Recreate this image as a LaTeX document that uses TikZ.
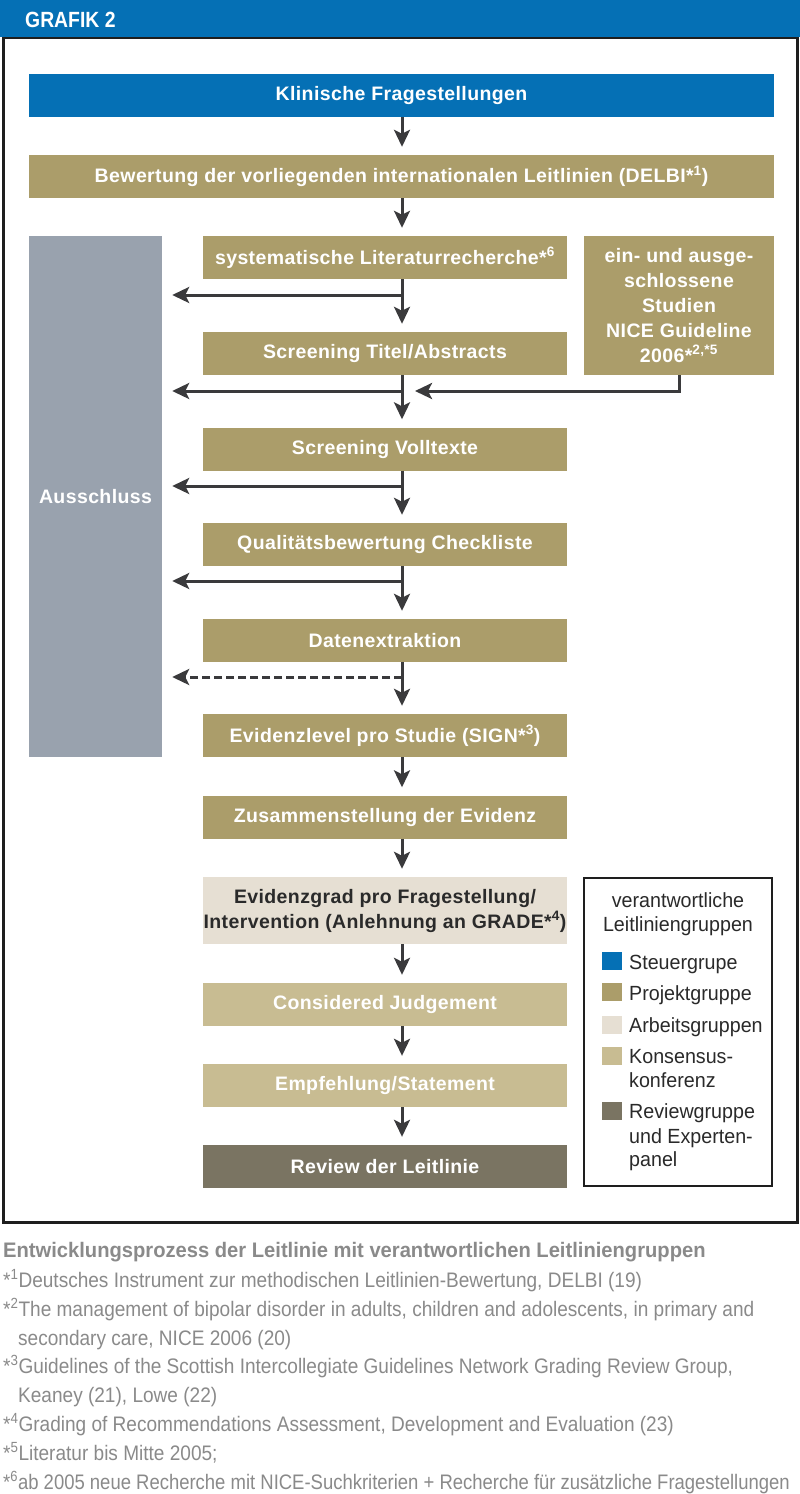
\documentclass[tikz,border=0pt]{standalone}
\usepackage{fontspec}
\setmainfont{Liberation Sans}
\newfontfamily\boxf{Liberation Sans}[LetterSpace=2]
\newfontfamily\hdrf{Liberation Sans}[FakeStretch=0.88]
\newfontfamily\notef{Liberation Sans}[FakeStretch=0.907]
\newfontfamily\legf{Liberation Sans}[FakeStretch=0.96]
\newfontfamily\capf{Liberation Sans}[FakeStretch=0.96]
\usetikzlibrary{arrows.meta}
\definecolor{cblue}{HTML}{0570B5}
\definecolor{ctan}{HTML}{AB9D6A}
\definecolor{cgray}{HTML}{99A2AE}
\definecolor{clight}{HTML}{E6DFD3}
\definecolor{ckons}{HTML}{C8BC92}
\definecolor{crev}{HTML}{7A7462}
\definecolor{carrow}{HTML}{3A3A3C}
\definecolor{cnote}{HTML}{8A8A8A}
\definecolor{cframe}{HTML}{1E1E1E}
\definecolor{cdark}{HTML}{2A2A2A}
\newcommand\fnmark[1]{*\textsuperscript{#1}}
\begin{document}
\begin{tikzpicture}[x=1pt,y=-1pt,
  pbox/.style={rectangle, inner sep=0pt, minimum height=43pt, minimum width=364pt,
    text=white, align=center, font={\boxf\bfseries\fontsize{19.5pt}{25pt}\selectfont}},
  arr/.style={draw=carrow, line width=3pt, -{Stealth[length=17pt,width=16pt,inset=4pt]}},
  swatch/.style={rectangle, inner sep=0pt, minimum width=20pt, minimum height=18pt},
  legtext/.style={anchor=base west, inner sep=0pt, text=cdark, font={\legf\fontsize{20.5pt}{24pt}\selectfont}},
  legtitle/.style={anchor=base, inner sep=0pt, text=cdark, font={\legf\fontsize{20.5pt}{24pt}\selectfont}},
  note/.style={anchor=base west, inner sep=0pt, text=cnote, font={\notef\fontsize{21pt}{24pt}\selectfont}}
]
\useasboundingbox (0,0) rectangle (800,1494);
\fill[white] (0,0) rectangle (800,1494);
% frame and header
\draw[cframe, line width=3pt] (3,37) rectangle (797,1222);
\fill[cblue] (0,0) rectangle (800,37);
\node[anchor=base west, inner sep=0pt, text=white, font={\hdrf\bfseries\fontsize{22pt}{24pt}\selectfont}] (hdr) at (25,27) {GRAFIK 2};

\coordinate (ax) at (402,0);

% boxes
\node[pbox, minimum width=745pt, fill=cblue] (klin) at (401.5,95.5) {Klinische Fragestellungen};
\node[pbox, minimum width=745pt, fill=ctan] (bew) at (401.5,176.5) {Bewertung der vorliegenden internationalen Leitlinien (DELBI\fnmark{1})};
\node[pbox, minimum width=133pt, minimum height=521pt, fill=cgray] (aus) at (95.5,496.5) {Ausschluss};
\node[pbox, fill=ctan] (lit) at (385,257.5) {systematische Literaturrecherche\fnmark{6}};
\node[pbox, minimum width=190pt, minimum height=139pt, fill=ctan] (nice) at (679,305.5) {ein- und ausge-\\schlossene\\Studien\\NICE Guideline\\2006\fnmark{2,*5}};
\node[pbox, fill=ctan] (scrt) at (385,353.5) {Screening Titel/Abstracts};
\node[pbox, fill=ctan] (scrv) at (385,449) {Screening Volltexte};
\node[pbox, fill=ctan] (qual) at (385,544.5) {Qualitätsbewertung Checkliste};
\node[pbox, fill=ctan] (daten) at (385,640.5) {Datenextraktion};
\node[pbox, fill=ctan] (evl) at (385,735.5) {Evidenzlevel pro Studie (SIGN\fnmark{3})};
\node[pbox, fill=ctan] (zus) at (385,817) {Zusammenstellung der Evidenz};
\node[pbox, minimum height=67pt, fill=clight, text=cdark] (evg) at (385,910.5) {Evidenzgrad pro Fragestellung/\\Intervention (Anlehnung an GRADE\fnmark{4})};
\node[pbox, fill=ckons] (cj) at (385,1004.5) {Considered Judgement};
\node[pbox, fill=ckons] (emp) at (385,1085.5) {Empfehlung/Statement};
\node[pbox, fill=crev] (rev) at (385,1166.5) {Review der Leitlinie};

% main arrows
\draw[arr, shorten >=8pt] (klin.south -| ax) -- (bew.north -| ax);
\draw[arr, shorten >=8pt] (bew.south -| ax) -- (lit.north -| ax);
\draw[arr, shorten >=8pt] (lit.south -| ax) -- (scrt.north -| ax);
\draw[arr, shorten >=8pt] (scrt.south -| ax) -- (scrv.north -| ax);
\draw[arr, shorten >=8pt] (scrv.south -| ax) -- (qual.north -| ax);
\draw[arr, shorten >=8pt] (qual.south -| ax) -- (daten.north -| ax);
\draw[arr, shorten >=8pt] (daten.south -| ax) -- (evl.north -| ax);
\draw[arr, shorten >=8pt] (evl.south -| ax) -- (zus.north -| ax);
\draw[arr, shorten >=8pt] (zus.south -| ax) -- (evg.north -| ax);
\draw[arr, shorten >=8pt] (evg.south -| ax) -- (cj.north -| ax);
\draw[arr, shorten >=8pt] (cj.south -| ax) -- (emp.north -| ax);
\draw[arr, shorten >=8pt] (emp.south -| ax) -- (rev.north -| ax);

% branches to Ausschluss
\coordinate (j1) at (402,295);
\coordinate (j2) at (402,391);
\coordinate (j3) at (402,486);
\coordinate (j4) at (402,581);
\coordinate (j5) at (402,677);
\draw[arr, shorten >=10pt] (j1) -- (j1 -| aus.east);
\draw[arr, shorten >=10pt] (j2) -- (j2 -| aus.east);
\draw[arr, shorten >=10pt] (j3) -- (j3 -| aus.east);
\draw[arr, shorten >=10pt] (j4) -- (j4 -| aus.east);
\draw[arr, dash pattern=on 8pt off 4pt, shorten >=10pt] (j5) -- (j5 -| aus.east);
% NICE arrow
\draw[arr, shorten >=13pt] (nice.south) |- (j2);

% legend
\draw[cframe, line width=1.5pt] (584,878) rectangle (772,1186);
\node[legtitle] (lt1) at (678,907) {verantwortliche};
\node[legtitle] (lt2) at (678,931) {Leitliniengruppen};
\node[swatch, fill=cblue] (s1) at (612,961) {};
\node[swatch, fill=ctan] (s2) at (612,992) {};
\node[swatch, fill=clight] (s3) at (612,1025) {};
\node[swatch, fill=ckons] (s4) at (612,1056) {};
\node[swatch, fill=crev] (s5) at (612,1111) {};
\node[legtext] (l1) at (629,969) {Steuergrupe};
\node[legtext] (l2) at (629,1000) {Projektgruppe};
\node[legtext] (l3) at (629,1032) {Arbeitsgruppen};
\node[legtext] (l4a) at (629,1063) {Konsensus-};
\node[legtext] (l4b) at (629,1087) {konferenz};
\node[legtext] (l5a) at (629,1118) {Reviewgruppe};
\node[legtext] (l5b) at (629,1143) {und Experten-};
\node[legtext] (l5c) at (629,1166) {panel};

% caption and footnotes
\node[anchor=base west, inner sep=0pt, text=cnote, font={\capf\bfseries\fontsize{21pt}{24pt}\selectfont}] (cap) at (3,1257) {Entwicklungsprozess der Leitlinie mit verantwortlichen Leitliniengruppen};
\node[note] (f1) at (3,1287) {\fnmark{1}Deutsches Instrument zur methodischen Leitlinien-Bewertung, DELBI (19)};
\node[note] (f2) at (3,1316) {\fnmark{2}The management of bipolar disorder in adults, children and adolescents, in primary and};
\node[note] (f2b) at (18,1345) {secondary care, NICE 2006 (20)};
\node[note] (f3) at (3,1373) {\fnmark{3}Guidelines of the Scottish Intercollegiate Guidelines Network Grading Review Group,};
\node[note] (f3b) at (18,1402) {Keaney (21), Lowe (22)};
\node[note] (f4) at (3,1431) {\fnmark{4}Grading of Recommendations Assessment, Development and Evaluation (23)};
\node[note] (f5) at (3,1460) {\fnmark{5}Literatur bis Mitte 2005;};
\node[note] (f6) at (3,1489) {\scalebox{0.97}[1]{\fnmark{6}ab 2005 neue Recherche mit NICE-Suchkriterien + Recherche für zusätzliche Fragestellungen}};
\end{tikzpicture}
\end{document}
